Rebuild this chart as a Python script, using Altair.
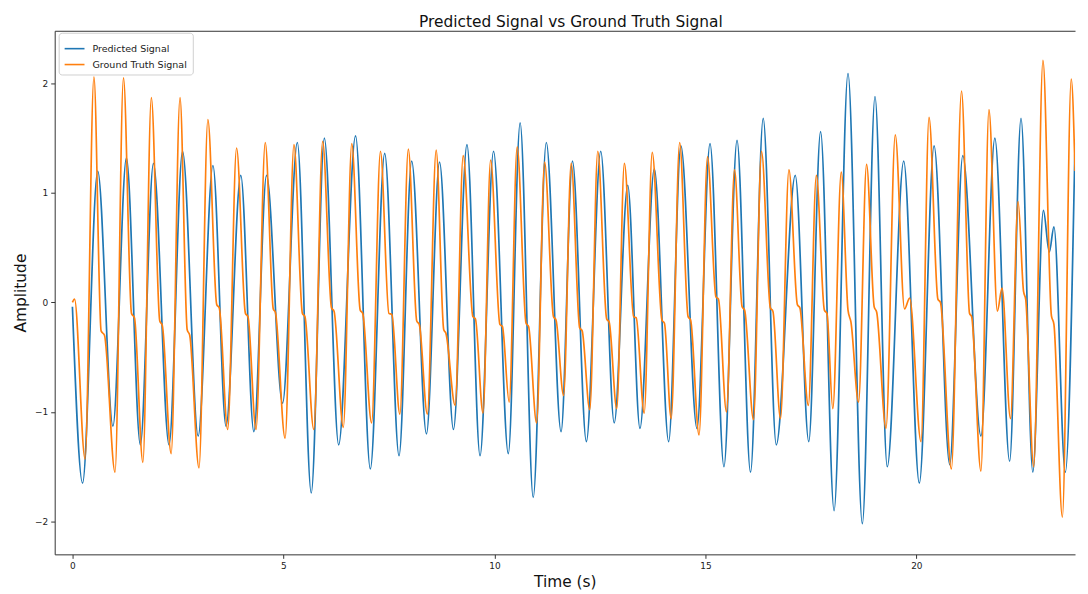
import altair as alt
import pandas as pd

# Predicted signal: extrema (time in s, amplitude)
pred_t = [0.00, 0.24, 0.60, 0.96, 1.28, 1.61, 1.92, 2.29, 2.61, 2.98, 3.33, 3.64, 3.99, 4.30,
          4.60, 4.98, 5.33, 5.66, 5.97, 6.31, 6.71, 7.06, 7.40, 7.74, 8.04, 8.39, 8.70, 9.03,
          9.35, 9.66, 9.98, 10.33, 10.61, 10.92, 11.23, 11.58, 11.85, 12.18, 12.52, 12.84,
          13.16, 13.45, 13.79, 14.13, 14.42, 14.80, 15.11, 15.44, 15.75, 16.07, 16.37, 16.68,
          17.13, 17.45, 17.73, 18.05, 18.38, 18.72, 19.02, 19.31, 19.70, 20.07, 20.42, 20.79,
          21.10, 21.53, 21.86, 22.21, 22.48, 22.76, 23.01, 23.15, 23.26, 23.53, 23.76]
pred_v = [-0.04, -1.65, 1.20, -1.13, 1.32, -1.30, 1.27, -1.30, 1.38, -1.22, 1.25, -1.13, 1.16,
          -1.18, 1.16, -0.92, 1.46, -1.74, 1.50, -1.30, 1.52, -1.52, 1.36, -1.40, 1.29, -1.20,
          1.28, -1.16, 1.44, -1.40, 1.38, -1.38, 1.64, -1.78, 1.46, -1.18, 1.29, -1.27, 1.38,
          -1.10, 1.07, -1.15, 1.22, -1.27, 1.43, -1.15, 1.45, -1.50, 1.48, -1.55, 1.68, -1.30,
          1.16, -1.27, 1.56, -1.90, 2.09, -2.02, 1.88, -1.50, 1.29, -1.65, 1.43, -1.48, 1.34,
          -1.22, 1.50, -1.45, 1.68, -1.55, 0.84, 0.46, 0.69, -1.55, 1.46]

# Ground truth signal: troughs, peaks and dicrotic shoulders
gt_t = [0.00, 0.05, 0.30, 0.51, 0.68, 0.76, 1.01, 1.21, 1.40, 1.47, 1.67, 1.87, 2.07, 2.13,
        2.34, 2.55, 2.72, 2.78, 3.00, 3.21, 3.42, 3.48, 3.68, 3.89, 4.10, 4.16, 4.35, 4.57,
        4.76, 4.81, 5.04, 5.25, 5.45, 5.51, 5.72, 5.93, 6.14, 6.20, 6.42, 6.62, 6.82, 6.88,
        7.09, 7.30, 7.50, 7.57, 7.76, 7.96, 8.16, 8.22, 8.41, 8.62, 8.80, 8.85, 9.07, 9.26,
        9.49, 9.55, 9.73, 9.91, 10.13, 10.19, 10.35, 10.54, 10.75, 10.81, 11.00, 11.19,
        11.40, 11.46, 11.64, 11.82, 12.02, 12.08, 12.26, 12.45, 12.66, 12.72, 12.90, 13.08,
        13.30, 13.36, 13.55, 13.74, 13.97, 14.03, 14.19, 14.39, 14.59, 14.65, 14.85, 15.05,
        15.25, 15.31, 15.50, 15.69, 15.87, 15.93, 16.14, 16.33, 16.54, 16.60, 16.78, 16.98,
        17.18, 17.24, 17.44, 17.63, 17.82, 17.88, 18.02, 18.22, 18.38, 18.45, 18.63, 18.82,
        19.00, 19.06, 19.28, 19.50, 19.72, 19.84, 20.11, 20.30, 20.51, 20.57, 20.83, 21.07,
        21.26, 21.31, 21.53, 21.72, 21.92, 22.03, 22.23, 22.41, 22.54, 22.59, 22.78, 23.00,
        23.20, 23.26, 23.46, 23.67, 23.76]
gt_v = [0.00, 0.03, -1.43, 2.06, -0.26, -0.30, -1.55, 2.05, -0.10, -0.14, -1.46, 1.87, -0.17,
        -0.21, -1.38, 1.87, -0.25, -0.30, -1.51, 1.67, -0.02, -0.05, -1.16, 1.41, -0.10, -0.13,
        -1.16, 1.46, -0.06, -0.09, -1.24, 1.44, -0.10, -0.13, -1.16, 1.47, -0.05, -0.08, -1.14,
        1.45, -0.07, -0.10, -1.10, 1.38, -0.10, -0.11, -1.02, 1.40, -0.17, -0.20, -1.02, 1.39,
        -0.25, -0.28, -0.94, 1.34, -0.13, -0.15, -1.01, 1.30, -0.20, -0.22, -0.91, 1.42, -0.19,
        -0.22, -1.10, 1.28, -0.13, -0.16, -0.85, 1.27, -0.23, -0.26, -0.98, 1.38, -0.15, -0.18,
        -0.97, 1.27, -0.13, -0.14, -1.01, 1.37, -0.16, -0.19, -1.06, 1.46, -0.13, -0.16, -1.21,
        1.33, 0.05, 0.03, -1.00, 1.21, -0.04, -0.07, -1.07, 1.38, -0.05, -0.08, -1.06, 1.21,
        -0.02, -0.05, -0.94, 1.16, -0.07, -0.10, -0.97, 1.19, -0.07, -0.18, -0.91, 1.26, -0.04,
        -0.09, -1.15, 1.53, -0.06, 0.04, -1.27, 1.69, 0.03, 0.00, -1.52, 1.93, -0.10, -0.13,
        -1.54, 1.76, -0.08, 0.13, -1.06, 0.92, 0.10, 0.03, -1.50, 2.21, -0.12, -0.20, -1.96,
        2.04, 1.20]

series_names = ["Predicted Signal", "Ground Truth Signal"]
series_colors = ["#1f77b4", "#ff7f0e"]
x_ticks = [0, 5, 10, 15, 20]
y_ticks = [-2, -1, 0, 1, 2]

pred_df = pd.DataFrame({"t": pred_t, "v": pred_v, "series": series_names[0]})
gt_df = pd.DataFrame({"t": gt_t, "v": gt_v, "series": series_names[1]})

FONT = "DejaVu Sans"
x_scale = alt.Scale(domain=[-0.42, 23.76], nice=False, zero=False)
y_scale = alt.Scale(domain=[-2.30, 2.48], nice=False, zero=False)
color_scale = alt.Scale(domain=series_names, range=series_colors)

legend = alt.Legend(
    title=None, orient="none", legendX=4, legendY=2, direction="vertical",
    fillColor="white", strokeColor="#d0d0d0", cornerRadius=3, padding=5,
    symbolType="M-1,0H1", symbolSize=400, symbolStrokeWidth=1.6,
    labelFont=FONT, labelFontSize=9.6, labelColor="#222", rowPadding=-2,
    labelOffset=7, labelLimit=200,
)

pred_line = alt.Chart(pred_df).mark_line(
    interpolate="monotone", strokeWidth=1.7, clip=True
).encode(
    x=alt.X("t:Q", scale=x_scale, title="Time (s)",
            axis=alt.Axis(values=x_ticks, format="d", grid=False, tickSize=4,
                          labelPadding=3, titlePadding=4)),
    y=alt.Y("v:Q", scale=y_scale, title="Amplitude",
            axis=alt.Axis(values=y_ticks, format="d", grid=False, tickSize=4,
                          labelPadding=3, titlePadding=6)),
    color=alt.Color("series:N", scale=color_scale, legend=legend),
)

gt_line = alt.Chart(gt_df).mark_line(
    interpolate="monotone", strokeWidth=1.7, clip=True
).encode(
    x=alt.X("t:Q", scale=x_scale, title=None,
            axis=alt.Axis(orient="top", labels=False, ticks=False, grid=False,
                          domain=True)),
    y=alt.Y("v:Q", scale=y_scale),
    color=alt.Color("series:N", scale=color_scale, legend=legend),
)

chart = alt.layer(pred_line, gt_line).resolve_axis(x="independent").properties(
    width=1027,
    height=527,
    title=alt.TitleParams(
        "Predicted Signal vs Ground Truth Signal", font=FONT, fontSize=15.5,
        fontWeight="normal", color="#111", anchor="middle", dx=6, offset=0,
    ),
).configure_view(stroke="transparent").configure_axis(
    labelFont=FONT, labelFontSize=9, labelColor="#222",
    titleFont=FONT, titleFontSize=15.5, titleFontWeight="normal", titleColor="#111",
    domainColor="#333", domainWidth=1, tickColor="#333", tickWidth=1,
)

chart.save("out.html", embed_options={"renderer": "svg", "actions": False})
